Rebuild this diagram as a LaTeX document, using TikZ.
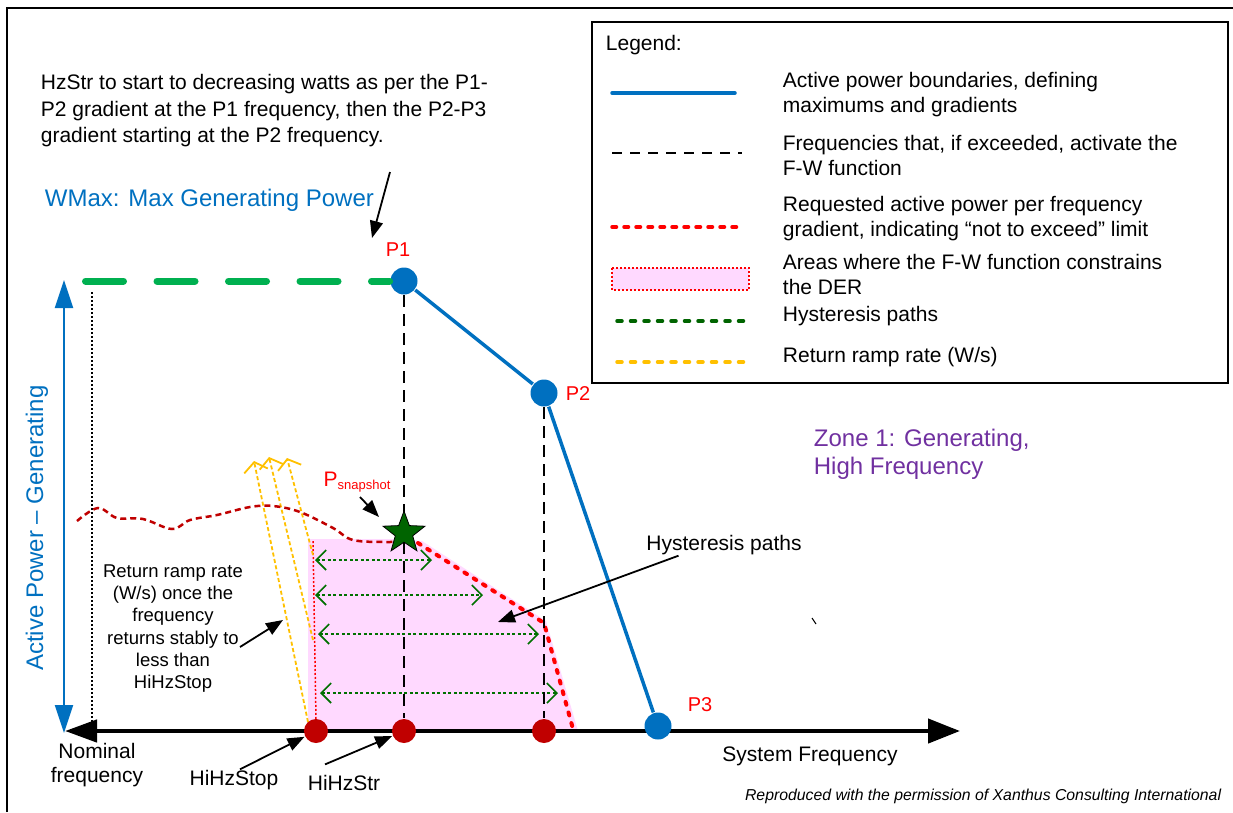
\documentclass[tikz,border=0pt]{standalone}
\usepackage{fontspec}
\setmainfont{Liberation Sans}
\usetikzlibrary{arrows.meta,shapes.geometric}

\definecolor{wmaxblue}{RGB}{0,112,192}
\definecolor{wmaxgreen}{RGB}{0,176,80}
\definecolor{hystgreen}{RGB}{0,112,0}
\definecolor{snapgreen}{RGB}{0,100,0}
\definecolor{reqred}{RGB}{255,0,0}
\definecolor{dotred}{RGB}{192,0,0}
\definecolor{fwpink}{RGB}{255,217,255}
\definecolor{rampyellow}{RGB}{255,192,0}
\definecolor{zonepurple}{RGB}{112,48,160}

\begin{document}
\begin{tikzpicture}[x=10pt, y=-10pt, line width=1.8pt,
  txt/.style={font=\fontsize{21}{25}\selectfont, inner sep=0pt},
  big/.style={font=\fontsize{24}{28}\selectfont, inner sep=0pt},
  note/.style={line width=1.8pt, -{Triangle[length=17pt,width=13pt]}},
  bnd/.style={wmaxblue, line width=3.5pt},
  pdot/.style={circle, fill=wmaxblue, minimum size=27pt, inner sep=0pt},
  hz/.style={circle, fill=dotred, minimum size=24pt, inner sep=0pt},
  act/.style={line width=1.8pt, dash pattern=on 12pt off 7pt},
  req/.style={reqred, line width=4pt, line cap=round, dash pattern=on 3pt off 8pt},
  hyst/.style={hystgreen, line width=1.6pt, dash pattern=on 3pt off 2.5pt,
    {Straight Barb[length=10pt,width=20pt]}-{Straight Barb[length=10pt,width=20pt]}},
  ramp/.style={rampyellow, line width=1.8pt, dash pattern=on 4pt off 2.5pt,
    -{Straight Barb[length=9pt,width=24pt]}},
]
\useasboundingbox (0,0) rectangle (123.3,81.2);

% frame (only left and top edge in view)
\draw[line width=1.5pt] (0.7,81.2) -- (0.7,0.8) -- (123.3,0.8);

% legend
\draw[line width=2pt] (59.2,2.2) rectangle (122.8,38.3);
\node[txt, anchor=west] (legTitle) at (60.5,4.5) {Legend:};
\draw[bnd, line cap=round] (61.2,9.3) -- (73.5,9.3);
\node[txt, anchor=west, align=left] (legBnd) at (78.2,9.45) {Active power boundaries, defining\\maximums and gradients};
\draw[line width=1.6pt, dash pattern=on 10pt off 8pt] (61.2,15.3) -- (74.2,15.3);
\node[txt, anchor=west, align=left] (legAct) at (78.2,15.55) {Frequencies that, if exceeded, activate the\\F-W function};
\draw[req, line width=3.5pt, dash pattern=on 4.5pt off 7.5pt] (61.2,22.7) -- (74.0,22.7);
\node[txt, anchor=west, align=left] (legReq) at (78.2,21.9) {Requested active power per frequency\\gradient, indicating “not to exceed” limit};
\draw[fill=fwpink, draw=reqred, line width=1.2pt, dash pattern=on 2pt off 2pt] (61.2,26.8) rectangle (74.9,29.0);
\node[txt, anchor=west, align=left] (legArea) at (78.2,27.45) {Areas where the F-W function constrains\\the DER};
\draw[snapgreen, line width=3.5pt, line cap=round, dash pattern=on 5pt off 8.5pt] (61.7,32.1) -- (74.5,32.1);
\node[txt, anchor=west] (legHyst) at (78.2,31.6) {Hysteresis paths};
\draw[rampyellow, line width=3.5pt, line cap=round, dash pattern=on 5pt off 8.5pt] (61.7,36.2) -- (74.5,36.2);
\node[txt, anchor=west] (legRamp) at (78.2,35.7) {Return ramp rate (W/s)};

% texts
\node[txt, anchor=west, align=left, font=\fontsize{21}{26.5}\selectfont] (hzNote) at (4.0,11.1)
  {HzStr to start to decreasing watts as per the P1-\\P2 gradient at the P1 frequency, then the P2-P3\\gradient starting at the P2 frequency.};
\node[big, anchor=west, text=wmaxblue] (wmax) at (4.4,20.0) {WMax: Max Generating Power};
\node[big, anchor=west, align=left, text=zonepurple] (zone) at (81.3,45.4) {Zone 1: Generating,\\High Frequency};
\node[big, text=wmaxblue, rotate=90] (yLbl) at (3.7,52.8) {Active Power – Generating};

% area where F-W constrains the DER
\fill[fwpink] (30.8,53.9) -- (40.2,53.9) -- (42.2,54.1) -- (54.6,62.1) -- (57.8,73.1) -- (30.8,73.1) -- cycle;
\draw[reqred, line width=1.5pt, dash pattern=on 2pt off 2pt] (31.3,54.1) -- (31.6,72.0);

% return ramps
\draw[ramp] (30.8,72.2) -- (25.4,46.1);
\draw[ramp] (31.3,64.0) -- (26.9,45.7);
\draw[ramp] (31.3,55.5) -- (28.7,45.8);

% actual power before the event
\draw[dotred, line width=2.5pt, dash pattern=on 6pt off 4pt] plot[smooth, tension=0.6] coordinates {
  (7.7,52.1) (9.8,50.8) (11.7,51.8) (14.3,51.9) (17.2,52.9) (19.0,52.0) (21.7,51.5)
  (25.0,50.7) (27.3,50.6) (30.0,51.2) (33.3,52.8) (35.3,54.0) (38.7,54.2) (40.0,54.1)};

% requested power limit
\draw[req] (41.8,54.3) -- (54.4,62.3) -- (57.3,72.9);

% hysteresis paths
\draw[hyst] (31.5,56.0) -- (43.2,56.0);
\draw[hyst] (31.5,59.5) -- (48.3,59.5);
\draw[hyst] (31.8,63.4) -- (53.9,63.4);
\draw[hyst] (32.0,69.3) -- (55.8,69.3);

% axes
\coordinate (yBot) at (6.4,73.3);
\coordinate (yTop) at (6.4,28.0);
\draw[wmaxblue, line width=2pt, {Triangle[length=28pt,width=18pt]}-{Triangle[length=28pt,width=18pt]}] (yBot) -- (yTop);
\coordinate (nomTop) at (9.2,29.2);
\coordinate (nomBot) at (9.2,72.6);
\draw[line width=1.5pt, dash pattern=on 2pt off 2pt] (nomTop) -- (nomBot);
\coordinate (fL) at (6.5,73.1);
\coordinate (fR) at (96.0,73.1);
\draw[line width=4.5pt, {Triangle[length=32pt,width=22pt]}-{Triangle[length=32pt,width=24pt]}] (fL) -- (fR);

% boundary points
\coordinate (wmaxL) at (8.55,28.1);
\node[pdot] (p1) at (40.4,28.1) {};
\node[pdot] (p2) at (54.4,39.3) {};
\node[pdot] (p3) at (65.8,72.6) {};
\node[hz] (dStop) at (31.6,73.1) {};
\node[hz] (dStr) at (40.4,73.1) {};
\node[hz] (dTwo) at (54.4,73.1) {};

\draw[wmaxgreen, line width=7pt, line cap=round, dash pattern=on 38pt off 33.5pt] (wmaxL) -- (p1);
\draw[bnd] (p1) -- (p2) -- (p3);
\draw[act] (p1) -- (dStr);
\draw[act] (p2) -- (dTwo);

\node[star, star points=5, star point ratio=2.4, fill=snapgreen, draw=black, line width=0.8pt,
  minimum size=44pt, inner sep=0pt] (snap) at (40.4,53.3) {};

\node[txt, text=reqred, font=\fontsize{20}{24}\selectfont] (p1Lbl) at (39.8,25.0) {P1};
\node[txt, text=reqred, font=\fontsize{20}{24}\selectfont] (p2Lbl) at (57.8,39.4) {P2};
\node[txt, text=reqred, font=\fontsize{20}{24}\selectfont] (p3Lbl) at (70.0,70.5) {P3};
\node[txt, text=reqred] (psnap) at (35.7,48.2) {P\raisebox{-3pt}{\fontsize{13}{13}\selectfont snapshot}};

% labels on the frequency axis
\node[txt, align=center, font=\fontsize{21}{24}\selectfont] (nomLbl) at (9.7,76.5) {Nominal\\frequency};
\node[txt] (lStop) at (23.4,78.0) {HiHzStop};
\node[txt] (lStr) at (34.4,78.3) {HiHzStr};
\node[txt] (sysLbl) at (81.0,75.6) {System Frequency};
\node[txt] (hyst) at (72.4,54.5) {Hysteresis paths};
\node[txt, align=center, font=\fontsize{18.5}{22.2}\selectfont] (rampTxt) at (17.3,62.85)
  {Return ramp rate\\(W/s) once the\\frequency\\returns stably to\\less than\\HiHzStop};
\node[anchor=east, inner sep=0pt, font=\fontsize{15.8}{18}\selectfont\itshape] (credit) at (122.2,79.6)
  {Reproduced with the permission of Xanthus Consulting International};

% pointers
\coordinate (hzFrom) at (39.0,17.2);
\coordinate (hzTo) at (37.2,23.8);
\draw[note] (hzFrom) -- (hzTo);
\coordinate (snapFrom) at (36.0,49.7);
\coordinate (snapTip) at (37.9,51.7);
\draw[note] (snapFrom) -- (snapTip);
\coordinate (rampFrom) at (24.0,64.7);
\coordinate (rampTip) at (28.3,62.0);
\draw[note] (rampFrom) -- (rampTip);
\draw[note] ([xshift=6pt]lStop.north) -- (dStop);
\draw[note] ([xshift=-19pt,yshift=10pt]lStr.north) -- (dStr);
\coordinate (hystTip) at (49.8,62.2);
\draw[note] ([xshift=33pt]hyst.south west) -- (hystTip);
\draw[line width=1pt] (81.2,61.8) -- (81.6,62.4);

\end{tikzpicture}
\end{document}
